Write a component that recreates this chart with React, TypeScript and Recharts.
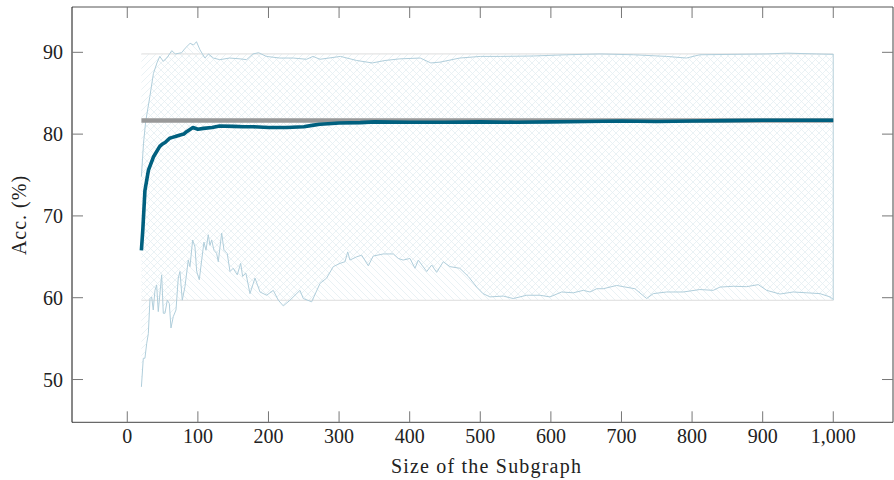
import React from "react";
import {
  ComposedChart,
  Line,
  Area,
  XAxis,
  YAxis,
  ReferenceLine,
} from "recharts";

// ---------- data ----------
const X_TICKS = [0, 100, 200, 300, 400, 500, 600, 700, 800, 900, 1000];
const Y_TICKS = [50, 60, 70, 80, 90];

const MEAN_X = [20, 22, 25, 30, 37, 46, 50, 54, 60, 64, 68, 75, 80, 84, 93, 100, 108, 120, 131, 150, 165, 178, 200, 226, 250, 264, 273, 290, 300, 330, 350, 400, 450, 500, 550, 600, 650, 700, 750, 800, 850, 900, 950, 1000];
const MEAN_Y = [65.8, 68.3, 73.1, 75.6, 77.2, 78.5, 78.8, 79.0, 79.5, 79.6, 79.7, 79.9, 80.0, 80.3, 80.8, 80.6, 80.7, 80.8, 81.0, 80.95, 80.9, 80.9, 80.8, 80.8, 80.9, 81.1, 81.2, 81.3, 81.35, 81.4, 81.5, 81.45, 81.45, 81.5, 81.45, 81.5, 81.55, 81.6, 81.55, 81.6, 81.65, 81.7, 81.7, 81.7];

const UPPER_X = [20, 23, 26, 32, 37, 42, 46, 51, 56, 63, 68, 77, 82, 89, 94, 98, 103, 110, 115, 122, 131, 145, 160, 169, 178, 186, 197, 216, 235, 254, 263, 273, 302, 325, 347, 365, 386, 415, 430, 443, 471, 500, 529, 575, 622, 670, 717, 764, 792, 811, 858, 906, 934, 976, 1000];
const UPPER_Y = [74.8, 78.9, 81.5, 84.6, 87.4, 88.7, 89.5, 88.9, 89.3, 90.2, 89.8, 89.95, 90.5, 91.1, 90.9, 91.3, 90.3, 89.3, 89.8, 89.3, 89.1, 89.3, 89.2, 89.1, 89.8, 89.95, 89.5, 89.3, 89.3, 89.15, 89.5, 89.15, 89.5, 89.0, 88.7, 89.0, 89.2, 89.3, 88.7, 88.8, 89.3, 89.5, 89.5, 89.55, 89.7, 89.8, 89.7, 89.5, 89.3, 89.7, 89.75, 89.8, 89.9, 89.8, 89.75];

const LOWER_X = [20, 22.7, 25, 27.5, 29.8, 32.2, 34.5, 36.8, 39.2, 41.6, 43.9, 48.7, 51, 53.4, 56.7, 59.5, 61.9, 65.2, 69, 72.2, 74.6, 77.9, 81.7, 86.4, 88.8, 92.6, 95.9, 98.3, 102, 105.4, 108.6, 111.5, 114.7, 117.1, 119.5, 122.8, 126.6, 128.9, 133.7, 137, 141.6, 145.5, 150, 155.8, 160.6, 163.4, 168, 173.8, 180.9, 188, 197.4, 206.8, 213.9, 221, 230.5, 244.6, 249.3, 261.2, 273, 282.4, 291.8, 301.3, 308.4, 312.2, 315.4, 324.9, 332, 341.4, 348.4, 362.6, 376.8, 383.9, 390.7, 400.4, 407.5, 412.2, 424.1, 431.2, 438.2, 447.6, 457, 471, 483, 495, 504, 513.7, 532.6, 546.7, 565.7, 584.6, 598.7, 615.3, 631.7, 646, 655.4, 664.9, 674.2, 693.2, 702.5, 719, 735.7, 745, 764, 787.5, 811, 830, 839.5, 858.4, 877.3, 893.8, 905.7, 924.5, 943.3, 962.3, 981.2, 995.3, 1000];
const LOWER_Y = [49.1, 52.6, 52.6, 54.4, 55.6, 59.9, 60.1, 58.5, 60.9, 61.55, 58.3, 62.8, 58.1, 58.1, 59.7, 59.3, 56.3, 57.7, 58.5, 62.4, 63.2, 59.7, 61.35, 64.6, 63.8, 67.05, 66.2, 63.2, 62.2, 64.6, 66.8, 65.8, 67.7, 66.4, 67.05, 65.8, 65.4, 64.4, 67.9, 65.8, 65.4, 63.2, 63.6, 62.8, 64.2, 62.6, 63.0, 60.5, 62.4, 60.7, 60.3, 60.9, 59.7, 59.0, 59.7, 60.9, 59.9, 59.5, 61.75, 62.4, 63.8, 64.2, 64.4, 65.6, 64.6, 65.0, 65.2, 63.9, 65.1, 65.35, 65.35, 64.8, 64.6, 64.8, 63.6, 64.6, 63.2, 64.0, 63.1, 64.4, 63.8, 63.6, 62.6, 61.3, 60.5, 60.1, 60.2, 59.9, 60.3, 60.3, 60.1, 60.7, 60.6, 60.9, 60.7, 61.1, 61.1, 61.5, 61.35, 61.1, 59.9, 60.5, 60.7, 60.7, 61.0, 60.9, 61.3, 61.4, 61.35, 61.6, 60.9, 60.45, 60.7, 60.6, 60.5, 60.1, 59.8];

const REF_X = [20, 1000];
const REF_Y = [81.66, 81.66];

const BAND_TOP = 89.8;
const BAND_BOTTOM = 59.68;
const X_START = 20;
const X_END = 1000;

const X_DOMAIN = [-78.3, 1084.6];
const Y_DOMAIN = [44.77, 95.54];

const zip = (xs: number[], ys: number[]) => xs.map((x, i) => ({ x, y: ys[i] }));
const meanData = zip(MEAN_X, MEAN_Y);
const upperData = zip(UPPER_X, UPPER_Y);
const lowerData = zip(LOWER_X, LOWER_Y);
const refData = zip(REF_X, REF_Y);

// ---------- styling ----------
const FONT = "'Liberation Serif', 'Times New Roman', serif";
const TEAL = "#00607f";
const GRAY = "#999999";
const LIGHT = "#b0cedb";
const HATCH = "#e4eff3";
const TICK_COLOR = "#777";
const TICK_LEN = 11;

const fmt = (v: number) => v.toLocaleString("en-US");

const BottomTick = (p: any) => (
  <g>
    <line x1={p.x} x2={p.x} y1={p.y} y2={p.y - TICK_LEN} stroke={TICK_COLOR} strokeWidth={1} />
    <text x={p.x} y={p.y + 20.4} textAnchor="middle" fontFamily={FONT} fontSize={20} fill="#222">
      {fmt(p.payload.value)}
    </text>
  </g>
);
const TopTick = (p: any) => (
  <line x1={p.x} x2={p.x} y1={p.y} y2={p.y + TICK_LEN} stroke={TICK_COLOR} strokeWidth={1} />
);
const LeftTick = (p: any) => (
  <g>
    <line x1={p.x} x2={p.x + TICK_LEN} y1={p.y} y2={p.y} stroke={TICK_COLOR} strokeWidth={1} />
    <text x={p.x - 9} y={p.y + 7} textAnchor="end" fontFamily={FONT} fontSize={20} fill="#222">
      {p.payload.value}
    </text>
  </g>
);
const RightTick = (p: any) => (
  <line x1={p.x} x2={p.x - TICK_LEN} y1={p.y} y2={p.y} stroke={TICK_COLOR} strokeWidth={1} />
);

export default function App() {
  return (
    <div style={{ position: "absolute", left: 0, top: 0, width: 894, height: 480, background: "#fff" }}>
      <ComposedChart
        width={894}
        height={480}
        margin={{ top: 6, right: 0, bottom: 56.7, left: 71 }}
      >
        <defs>
          <pattern id="hatchA" patternUnits="userSpaceOnUse" width={7} height={7}>
            <path d="M0,0 L7,7 M-1,6 L1,8 M6,-1 L8,1" stroke={HATCH} strokeWidth={0.8} />
          </pattern>
          <pattern id="hatchB" patternUnits="userSpaceOnUse" width={7} height={7}>
            <path d="M0,7 L7,0 M-1,1 L1,-1 M6,8 L8,6" stroke={HATCH} strokeWidth={0.8} />
          </pattern>
        </defs>
        <XAxis
          xAxisId="b"
          type="number"
          dataKey="x"
          domain={X_DOMAIN}
          allowDataOverflow
          ticks={X_TICKS}
          interval={0}
          height={1}
          tickSize={0}
          tickMargin={0}
          tickLine={false}
          axisLine={{ stroke: "#444", strokeWidth: 1 }}
          tick={BottomTick}
        />
        <XAxis
          xAxisId="t"
          orientation="top"
          type="number"
          dataKey="x"
          domain={X_DOMAIN}
          allowDataOverflow
          ticks={X_TICKS}
          interval={0}
          height={1}
          tickSize={0}
          tickMargin={0}
          tickLine={false}
          axisLine={{ stroke: "#555", strokeWidth: 1 }}
          tick={TopTick}
        />
        <YAxis
          yAxisId="l"
          type="number"
          domain={Y_DOMAIN}
          allowDataOverflow
          ticks={Y_TICKS}
          interval={0}
          width={1}
          tickSize={0}
          tickMargin={0}
          tickLine={false}
          axisLine={{ stroke: "#111", strokeWidth: 1 }}
          tick={LeftTick}
        />
        <YAxis
          yAxisId="r"
          orientation="right"
          type="number"
          domain={Y_DOMAIN}
          allowDataOverflow
          ticks={Y_TICKS}
          interval={0}
          width={1}
          tickSize={0}
          tickMargin={0}
          tickLine={false}
          axisLine={{ stroke: "#444", strokeWidth: 1 }}
          tick={RightTick}
        />

        <Area
          xAxisId="b"
          yAxisId="l"
          data={upperData}
          dataKey="y"
          type="linear"
          baseValue={BAND_BOTTOM}
          fill="url(#hatchA)"
          fillOpacity={1}
          stroke="none"
          isAnimationActive={false}
        />
        <Area
          xAxisId="b"
          yAxisId="l"
          data={lowerData}
          dataKey="y"
          type="linear"
          baseValue={BAND_TOP}
          fill="url(#hatchB)"
          fillOpacity={1}
          stroke="none"
          isAnimationActive={false}
        />

        <ReferenceLine
          xAxisId="b"
          yAxisId="l"
          segment={[{ x: X_START, y: BAND_TOP }, { x: X_END, y: BAND_TOP }]}
          stroke="#e4e4e4"
          strokeWidth={1.2}
        />
        <ReferenceLine
          xAxisId="b"
          yAxisId="l"
          segment={[{ x: X_START, y: BAND_BOTTOM }, { x: X_END, y: BAND_BOTTOM }]}
          stroke="#e4e4e4"
          strokeWidth={1.2}
        />
        <ReferenceLine
          xAxisId="b"
          yAxisId="l"
          segment={[{ x: X_END, y: BAND_BOTTOM }, { x: X_END, y: BAND_TOP }]}
          stroke="#c3d8e0"
          strokeWidth={1.2}
        />

        <Line
          xAxisId="b"
          yAxisId="l"
          data={upperData}
          dataKey="y"
          type="linear"
          stroke={LIGHT}
          strokeWidth={1}
          dot={false}
          isAnimationActive={false}
        />
        <Line
          xAxisId="b"
          yAxisId="l"
          data={lowerData}
          dataKey="y"
          type="linear"
          stroke={LIGHT}
          strokeWidth={1}
          dot={false}
          isAnimationActive={false}
        />
        <Line
          xAxisId="b"
          yAxisId="l"
          data={refData}
          dataKey="y"
          type="linear"
          stroke={GRAY}
          strokeWidth={4.5}
          dot={false}
          isAnimationActive={false}
        />
        <Line
          xAxisId="b"
          yAxisId="l"
          data={meanData}
          dataKey="y"
          type="linear"
          stroke={TEAL}
          strokeWidth={3.6}
          strokeLinejoin="round"
          dot={false}
          isAnimationActive={false}
        />

        <text
          x={486.5}
          y={472.7}
          textAnchor="middle"
          fontFamily={FONT}
          fontSize={20}
          letterSpacing={1.2}
          fill="#222"
        >
          Size of the Subgraph
        </text>
        <text
          x={26}
          y={215}
          transform="rotate(-90 26 215)"
          textAnchor="middle"
          fontFamily={FONT}
          fontSize={20}
          letterSpacing={1}
          fill="#222"
        >
          Acc. (%)
        </text>
      </ComposedChart>
    </div>
  );
}
